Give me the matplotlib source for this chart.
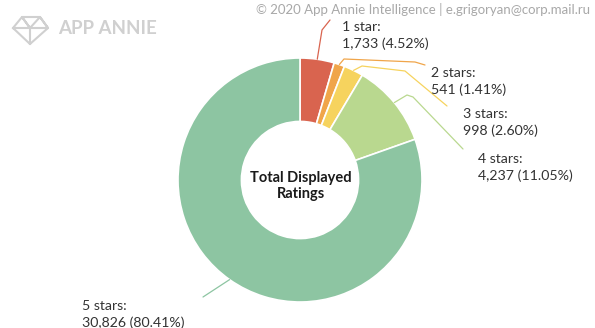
import numpy as np
import matplotlib.pyplot as plt

star_labels = ["1 star", "2 stars", "3 stars", "4 stars", "5 stars"]
rating_counts = [1733, 541, 998, 4237, 30826]
rating_shares = [4.52, 1.41, 2.60, 11.05, 80.41]
slice_colors = ["#d9644f", "#f0a54a", "#f6d35e", "#b9d88f", "#8dc5a2"]

plt.rcParams['font.family'] = ['Lato', 'DejaVu Sans']

W, H = 595, 328
fig = plt.figure(figsize=(W / 100, H / 100), dpi=100)
ax = fig.add_axes([0, 0, 1, 1])
ax.set_xlim(0, W)
ax.set_ylim(0, H)
ax.set_aspect('equal')
ax.axis('off')

cx, cy, R = 300, H - 180, 122
wedges, _ = ax.pie(rating_counts, colors=slice_colors, startangle=90,
                   counterclock=False, center=(cx, cy), radius=R,
                   wedgeprops=dict(width=R * 0.52, edgecolor='white', linewidth=1.2))
ax.set_xlim(0, W)
ax.set_ylim(0, H)

ax.text(cx + 1, cy - 6, "Total Displayed\nRatings", ha='center', va='center',
        fontsize=10.5, fontweight='bold', color='#1a1a1a', linespacing=1.1)

# label anchors (x, y top in pixels) and the leader-line bend points
label_pos = [(342, 21), (431, 67), (463, 108), (478, 153), (82, 300)]
bends = [
    [(322, 30), (330, 20)],
    [(344, 59), (415, 62), (425, 65)],
    [(362, 66), (405, 71), (447, 106)],
    [(407, 95), (413, 97), (463, 149)],
    [(203, 297)],
]

for w, lab, n, pct, col, (lx, ly), pts in zip(wedges, star_labels, rating_counts,
                                              rating_shares, slice_colors, label_pos, bends):
    ang = np.deg2rad((w.theta1 + w.theta2) / 2)
    sx, sy = cx + R * np.cos(ang), cy + R * np.sin(ang)
    xs = [sx] + [p[0] for p in pts]
    ys = [sy] + [H - p[1] for p in pts]
    ax.plot(xs, ys, color=col, lw=0.9, solid_capstyle='round')
    ax.text(lx, H - ly, f"{lab}:\n{n:,} ({pct:.2f}%)", ha='left', va='top',
            fontsize=10.2, color='#333333', linespacing=1.38)

# watermark
ax.text(590, H - 10, "© 2020 App Annie Intelligence | e.grigoryan@corp.mail.ru",
        ha='right', va='center', fontsize=9.5, color='#a8a8a8')
ax.text(58, H - 28, "APP ANNIE", ha='left', va='center', fontsize=13.5,
        fontweight='bold', color='#d0d0d0')
gem = np.array([[13, 28], [22, 17], [40, 17], [48, 28], [30, 44], [13, 28],
                [48, 28], [40, 17], [30, 28], [22, 17], [30, 28], [30, 44]])
ax.plot(gem[:, 0], H - gem[:, 1], color='#d0d0d0', lw=1.5)

fig.savefig("out.png", dpi=100)
